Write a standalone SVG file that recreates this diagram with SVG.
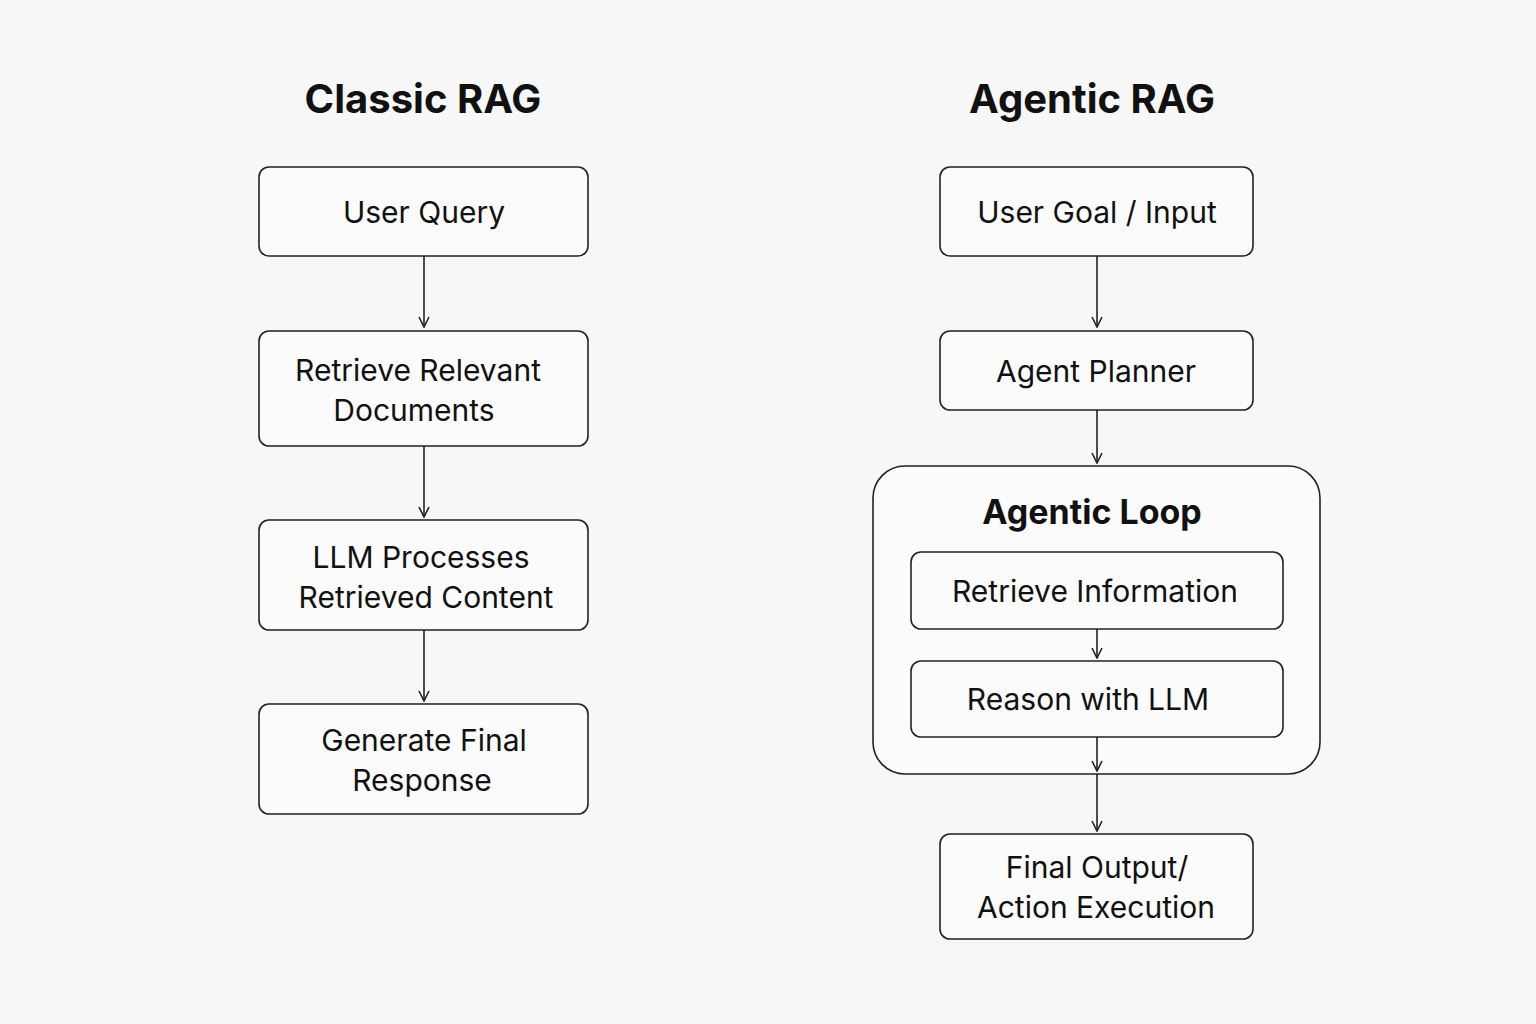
<svg xmlns="http://www.w3.org/2000/svg" width="1536" height="1024" viewBox="0 0 1536 1024">
<style>
.box{fill:#fbfbfb;stroke:#222;stroke-width:1.6}
.t{font-family:Inter,"Liberation Sans",sans-serif;font-size:30px;fill:#111;text-anchor:middle}
.h{font-family:Inter,"Liberation Sans",sans-serif;font-weight:bold;fill:#111;text-anchor:middle}
.c line{stroke:#222;stroke-width:1.6;marker-end:url(#a)}
</style>
<defs><marker id="a" viewBox="0 0 12 12" refX="11" refY="6" markerWidth="12" markerHeight="12" markerUnits="userSpaceOnUse" orient="auto"><path d="M1,1 L11,6 L1,11" fill="none" stroke="#222" stroke-width="1.6"/></marker></defs>
<rect width="1536" height="1024" fill="#f7f7f7"/>
<text class="h" x="423" y="113" font-size="40">Classic RAG</text>
<text class="h" x="1092" y="113" font-size="40">Agentic RAG</text>
<g id="uq"><rect class="box" x="259" y="167" width="329" height="89" rx="10"/><text class="t" x="424" y="223">User Query</text></g>
<g id="rd"><rect class="box" x="259" y="331" width="329" height="115" rx="10"/><text class="t" x="418" y="381">Retrieve Relevant</text><text class="t" x="414" y="421">Documents</text></g>
<g id="llm"><rect class="box" x="259" y="520" width="329" height="110" rx="10"/><text class="t" x="421" y="568">LLM Processes</text><text class="t" x="426" y="608">Retrieved Content</text></g>
<g id="gen"><rect class="box" x="259" y="704" width="329" height="110" rx="10"/><text class="t" x="424" y="751">Generate Final</text><text class="t" x="422" y="791">Response</text></g>
<g id="ug"><rect class="box" x="940" y="167" width="313" height="89" rx="10"/><text class="t" x="1097" y="223">User Goal / Input</text></g>
<g id="ap"><rect class="box" x="940" y="331" width="313" height="79" rx="10"/><text class="t" x="1096" y="382">Agent Planner</text></g>
<g id="loop"><rect class="box" x="873" y="466" width="447" height="308" rx="32"/><text class="h" x="1092" y="524" font-size="34">Agentic Loop</text></g>
<g id="ri"><rect class="box" x="911" y="552" width="372" height="77" rx="10"/><text class="t" x="1095" y="602">Retrieve Information</text></g>
<g id="rl"><rect class="box" x="911" y="661" width="372" height="76" rx="10"/><text class="t" x="1088" y="710">Reason with LLM</text></g>
<g id="fo"><rect class="box" x="940" y="834" width="313" height="105" rx="10"/><text class="t" x="1097" y="878">Final Output/</text><text class="t" x="1096" y="918">Action Execution</text></g>
<g class="c">
<line x1="424" y1="256" x2="424" y2="327"/>
<line x1="424" y1="446" x2="424" y2="517"/>
<line x1="424" y1="630" x2="424" y2="701"/>
<line x1="1097" y1="256" x2="1097" y2="327"/>
<line x1="1097" y1="410" x2="1097" y2="463"/>
<line x1="1097" y1="629" x2="1097" y2="658"/>
<line x1="1097" y1="737" x2="1097" y2="771"/>
<line x1="1097" y1="774" x2="1097" y2="831"/>
</g>
</svg>
